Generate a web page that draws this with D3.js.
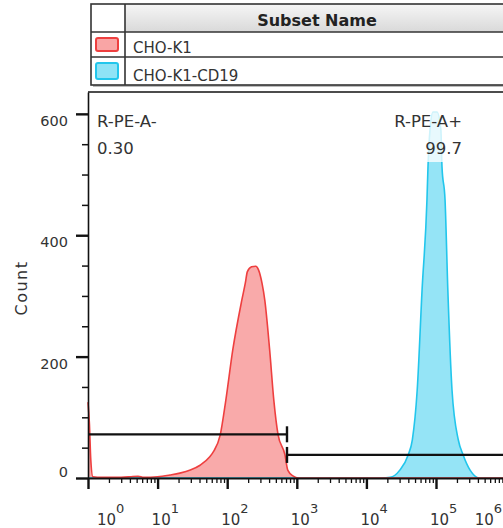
<!DOCTYPE html>
<html lang="en">
<head>
<meta charset="UTF-8">
<title>R-PE-A histogram</title>
<script src="https://cdn.jsdelivr.net/npm/d3@7"></script>
<style>
body { margin: 0; background: #fff; }
text { font-family: "DejaVu Sans", sans-serif; fill: #222; }
</style>
</head>
<body>
<div id="chart"></div>
<script>

// legend rows
const subsets = ['CHO-K1', 'CHO-K1-CD19']
const subsetFill = ['#f9a5a5', '#8fe3f6']
const subsetLine = ['#ee3f3f', '#22c6ec']

// CHO-K1 histogram: log10(R-PE-A) of each bin and its count
const k1Log   = [0, 0.02, 0.04, 0.07, 0.2, 0.4, 0.6, 0.72, 0.8, 1.0, 1.18, 1.32, 1.47, 1.61, 1.75, 1.8, 1.9, 1.98, 2.08, 2.21, 2.26, 2.29, 2.35, 2.41, 2.45, 2.5, 2.54, 2.61, 2.67, 2.73, 2.83, 2.87, 2.95, 3.02, 6.3]
const k1Count = [125, 90, 30, 2, 1, 1, 2, 3, 1, 2, 5, 8, 13, 21, 35, 43, 71, 128, 211, 293, 321, 340, 348, 349, 343, 321, 293, 211, 128, 72, 38, 13, 3, 0, 0]

// CHO-K1-CD19 histogram
const cd19Log   = [0, 4.22, 4.34, 4.48, 4.6, 4.66, 4.73, 4.8, 4.87, 4.885, 4.914, 4.957, 5.014, 5.07, 5.086, 5.13, 5.17, 5.23, 5.32, 5.39, 5.49, 5.59, 5.63, 6.3]
const cd19Count = [0, 0, 1, 13, 38, 63, 145, 310, 458, 513, 574, 603, 603, 574, 513, 458, 310, 145, 63, 38, 13, 1, 0, 0]

// gates
const gateNames = ['R-PE-A-', 'R-PE-A+']
const gatePct = ['0.30', '99.7']
const gateLo = [1, 723]
const gateHi = [723, 1e7]

const yTicks = [0, 200, 400, 600]
const yMinor = [50, 100, 150, 250, 300, 350, 450, 500, 550]
const xDecades = [0, 1, 2, 3, 4, 5, 6]

const W = 503, H = 528
const pLeft = 88, pBottom = 478, pTop = 92

const svg = d3.select('#chart').append('svg')
  .attr('width', W).attr('height', H)
  .style('display', 'block')

const x = d3.scaleLog().domain([1, 1e6]).range([pLeft, pLeft + 6 * 69.6])
const y = d3.scaleLinear().domain([0, 636]).range([pBottom, pTop])

/********** legend table **********/
const tbl = svg.append('g')
const defs = svg.append('defs')
const grad = defs.append('linearGradient').attr('id', 'hdr').attr('x1', 0).attr('y1', 0).attr('x2', 0).attr('y2', 1)
grad.append('stop').attr('offset', '0%').attr('stop-color', '#f6f6f6')
grad.append('stop').attr('offset', '100%').attr('stop-color', '#d9d9d9')

const tL = 91, tR = 520, col = 125, rows = [4, 32, 57, 85]
tbl.append('rect').attr('x', tL + 2).attr('y', rows[0] + 2).attr('width', tR - tL).attr('height', rows[3] - rows[0])
  .attr('fill', '#bbb')
tbl.append('rect').attr('x', tL).attr('y', rows[0]).attr('width', tR - tL).attr('height', rows[3] - rows[0])
  .attr('fill', '#fff')
tbl.append('rect').attr('x', col).attr('y', rows[0]).attr('width', tR - col).attr('height', rows[1] - rows[0])
  .attr('fill', 'url(#hdr)')
tbl.append('rect').attr('x', tL).attr('y', rows[0]).attr('width', tR - tL).attr('height', rows[3] - rows[0])
  .attr('fill', 'none').attr('stroke', '#333').attr('stroke-width', 1.6)
rows.slice(1, 3).forEach(r => {
  tbl.append('line').attr('x1', tL).attr('x2', tR).attr('y1', r).attr('y2', r)
    .attr('stroke', '#333').attr('stroke-width', 1.6)
})
tbl.append('line').attr('x1', col).attr('x2', col).attr('y1', rows[0]).attr('y2', rows[3])
  .attr('stroke', '#333').attr('stroke-width', 1.6)
tbl.append('text').attr('x', 317).attr('y', 26).attr('text-anchor', 'middle')
  .style('font-size', '16px').style('font-weight', 'bold').text('Subset Name')

subsets.forEach((s, i) => {
  let r0 = rows[i + 1], r1 = rows[i + 2]
  tbl.append('rect').attr('x', 96).attr('y', r0 + 6).attr('width', 22).attr('height', r1 - r0 - 12)
    .attr('rx', 2).attr('fill', subsetFill[i]).attr('stroke', subsetLine[i]).attr('stroke-width', 2)
  tbl.append('text').attr('x', 133).attr('y', r1 - 4)
    .style('font-size', '15px').style('fill', '#333').text(s)
})

/********** histograms **********/
const plot = svg.append('g')

function drawHist(logs, counts, i) {
  let pts = logs.map((e, j) => [Math.pow(10, e), counts[j]])
  plot.append('path').datum(pts)
    .attr('fill', subsetFill[i]).attr('fill-opacity', 0.95)
    .attr('d', d3.area().curve(d3.curveMonotoneX)
      .x(d => x(d[0])).y0(y(0)).y1(d => y(d[1])))
}
function drawOutline(logs, counts, i) {
  let pts = logs.map((e, j) => [Math.pow(10, e), counts[j]])
  plot.append('path').datum(pts)
    .attr('fill', 'none').attr('stroke', subsetLine[i]).attr('stroke-width', 1.6)
    .attr('d', d3.line().curve(d3.curveMonotoneX)
      .x(d => x(d[0])).y(d => y(d[1])))
}
drawHist(k1Log, k1Count, 0)
drawHist(cd19Log, cd19Count, 1)
drawOutline(cd19Log, cd19Count, 1)
drawOutline(k1Log, k1Count, 0)

/********** axes **********/
const yAx = svg.append('g').attr('transform', `translate(${pLeft},0)`)
  .call(d3.axisLeft(y).tickValues(yTicks).tickSize(12).tickSizeOuter(0).tickFormat(''))
yAx.select('.domain').attr('stroke', '#111').attr('stroke-width', 1.6)
yAx.selectAll('.tick line').attr('stroke', '#111').attr('stroke-width', 2.4)
const yMin = svg.append('g').attr('transform', `translate(${pLeft},0)`)
  .call(d3.axisLeft(y).tickValues(yMinor).tickSize(6).tickSizeOuter(0).tickFormat(''))
yMin.select('.domain').remove()
yMin.selectAll('.tick line').attr('stroke', '#111').attr('stroke-width', 1.5)

yTicks.forEach(v => {
  svg.append('text').attr('x', 68).attr('y', v == 0 ? y(v) - 1 : y(v) + 12)
    .attr('text-anchor', 'end').style('font-size', '14.5px').style('fill', '#333').text(v)
})
svg.append('text').attr('transform', 'translate(27,288) rotate(-90)')
  .attr('text-anchor', 'middle').style('font-size', '16px').style('letter-spacing', '1.5px')
  .style('fill', '#333').text('Count')

// top frame
svg.append('line').attr('x1', pLeft).attr('x2', W).attr('y1', pTop).attr('y2', pTop)
  .attr('stroke', '#111').attr('stroke-width', 1.6)

let majors = xDecades.map(d => Math.pow(10, d))
let minors = []
xDecades.forEach(d => { for (let k = 2; k < 10; k++) minors.push(k * Math.pow(10, d)) })
minors = minors.filter(v => v < 1e6 * 1.01)

const xAx = svg.append('g').attr('transform', `translate(0,${pBottom})`)
  .call(d3.axisBottom(x).tickValues(majors).tickSize(11).tickSizeOuter(0).tickFormat(''))
xAx.select('.domain').attr('stroke', '#111').attr('stroke-width', 1.8)
xAx.selectAll('.tick line').attr('stroke', '#111').attr('stroke-width', 2.4)
const xMin = svg.append('g').attr('transform', `translate(0,${pBottom})`)
  .call(d3.axisBottom(x).tickValues(minors).tickSize(5).tickSizeOuter(0).tickFormat(''))
xMin.select('.domain').remove()
xMin.selectAll('.tick line').attr('stroke', '#111').attr('stroke-width', 1.3)

xDecades.forEach(d => {
  let lx = Math.max(x(Math.pow(10, d)) - 6, pLeft + 9)
  let t = svg.append('text').attr('x', lx).attr('y', 525).style('font-size', '15px').style('fill', '#333')
  t.append('tspan').text('10')
  t.append('tspan').attr('dy', -12).style('font-size', '13px').text(d)
  // keep the last label inside the picture
  let bb = t.node().getBBox()
  if (bb.x + bb.width > W - 1) t.attr('x', W - 1 - bb.width)
})

/********** gates **********/
const lvl = [72, 38]
gateNames.forEach((g, i) => {
  let x0 = x(gateLo[i]), x1 = Math.min(x(gateHi[i]), W + 10), yy = y(lvl[i])
  svg.append('line').attr('x1', x0).attr('x2', x1).attr('y1', yy).attr('y2', yy)
    .attr('stroke', '#111').attr('stroke-width', 2.2)
  let capX = i == 0 ? x1 : x0
  svg.append('line').attr('x1', capX).attr('x2', capX).attr('y1', yy - 8).attr('y2', yy + 8)
    .attr('stroke', '#111').attr('stroke-width', 2.4)
})

// gate labels with a semi-transparent backing
const labels = [
  {x: 97, anchor: 'start'},
  {x: 462, anchor: 'end'}
]
gateNames.forEach((g, i) => {
  let lg = svg.append('g')
  let bg = lg.append('rect').attr('fill', '#fff').attr('fill-opacity', 0.78)
  let t1 = lg.append('text').attr('x', labels[i].x).attr('y', 127).attr('text-anchor', labels[i].anchor)
    .style('font-size', '16.5px').style('fill', '#333').text(g)
  let t2 = lg.append('text').attr('x', labels[i].x).attr('y', 154).attr('text-anchor', labels[i].anchor)
    .style('font-size', '16.5px').style('fill', '#333').text(gatePct[i])
  let b1 = t1.node().getBBox(), b2 = t2.node().getBBox()
  let bx0 = Math.min(b1.x, b2.x) - 4, bx1 = Math.max(b1.x + b1.width, b2.x + b2.width) + 4
  bg.attr('x', bx0).attr('y', b1.y - 4).attr('width', bx1 - bx0).attr('height', b2.y + b2.height + 8 - b1.y)
})

</script>
</body>
</html>
